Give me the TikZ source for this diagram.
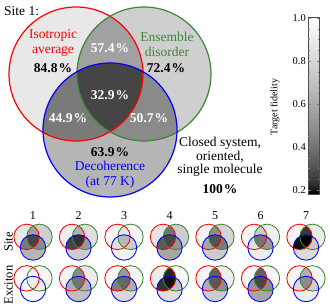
\documentclass[tikz,border=0pt]{standalone}
\usepackage{fontspec}
\setmainfont{Liberation Serif}
\definecolor{vred}{RGB}{255,0,0}
\definecolor{vgreen}{RGB}{60,135,50}
\definecolor{vblue}{RGB}{0,0,255}
\pgfdeclareverticalshading{fid}{100bp}{color(0bp)=(black); color(25bp)=(black);
 color(27.5bp)=(white!16.6!black); color(30bp)=(white!25.1!black); color(35bp)=(white!38.1!black);
 color(40bp)=(white!48.6!black); color(45bp)=(white!57.7!black); color(50bp)=(white!66!black);
 color(55bp)=(white!73.6!black); color(60bp)=(white!80.7!black); color(65bp)=(white!87.5!black);
 color(70bp)=(white!93.9!black); color(75bp)=(white); color(100bp)=(white)}
% shades: RO GO BO RG RB GB RGB (percent white)
\newcommand{\myvenn}[7]{%
 \fill[white!#1!black] (-34,-56) circle[radius=67pt];
 \fill[white!#2!black] (34,-56) circle[radius=67pt];
 \fill[white!#3!black] (0,0) circle[radius=67pt];
 \begin{scope}
  \clip (-34,-56) circle[radius=67pt];
  \fill[white!#4!black] (34,-56) circle[radius=67pt];
  \fill[white!#5!black] (0,0) circle[radius=67pt];
 \end{scope}
 \begin{scope}
  \clip (34,-56) circle[radius=67pt];
  \fill[white!#6!black] (0,0) circle[radius=67pt];
 \end{scope}
 \begin{scope}
  \clip (-34,-56) circle[radius=67pt];
  \clip (34,-56) circle[radius=67pt];
  \fill[white!#7!black] (0,0) circle[radius=67pt];
 \end{scope}
 \draw[vred, vline] (-34,-56) circle[radius=67pt];
 \draw[vgreen, vline] (34,-56) circle[radius=67pt];
 \draw[vblue, vline] (0,0) circle[radius=67pt];
}
\newcommand{\mfs}{\fontsize{13.5}{15}\selectfont}
\begin{document}
\begin{tikzpicture}[x=1pt,y=-1pt,
  vline/.style={line width=1.2pt},
  lbl/.style={inner sep=0pt, font=\mfs, align=center},
  pct/.style={inner sep=0pt, font=\mfs\bfseries},
  wpct/.style={pct, text=white},
  tick/.style={inner sep=0pt, font=\fontsize{10.5}{12}\selectfont, anchor=east},
  coln/.style={inner sep=0pt, font=\fontsize{12}{14}\selectfont},
  rowl/.style={inner sep=0pt, font=\fontsize{12.5}{14}\selectfont, rotate=90}]
\path[use as bounding box] (0,0) rectangle (330,306);
% main Venn
\begin{scope}[shift={(110,130)}]
 \myvenn{91}{81}{71}{63}{48}{54}{27}
\end{scope}
\node[lbl, anchor=west] (site1) at (4,11) {Site 1:};
\node[lbl, text=vred] (iso) at (53,42.5) {Isotropic\\average};
\node[pct] (p848) at (53,68) {84.8\kern1pt\%};
\node[wpct] (p574) at (110,48) {57.4\kern1pt\%};
\node[lbl, text=vgreen] (ens) at (167,44.5) {Ensemble\\disorder};
\node[pct] (p724) at (166,68) {72.4\kern1pt\%};
\node[wpct] (p329) at (110,95) {32.9\kern1pt\%};
\node[wpct] (p449) at (68,118) {44.9\kern1pt\%};
\node[wpct] (p507) at (149,118) {50.7\kern1pt\%};
\node[pct] (p639) at (110,152) {63.9\kern1pt\%};
\node[lbl, text=vblue] (dec) at (110,174.5) {Decoherence\\(at 77 K)};
\node[lbl, font=\fontsize{13.5}{13.7}\selectfont] (closed) at (220,157) {Closed system,\\oriented,\\single molecule};
\node[pct] (p100) at (220,189) {100\kern1pt\%};
% colour bar
\node[draw=black!70, line width=0.5pt, shading=fid, minimum width=11pt, minimum height=176.5pt, inner sep=0pt] (bar) at (313.8,105.75) {};
\foreach \k in {0,...,16}{
  \pgfmathsetmacro{\yy}{18+\k*10.75}
  \pgfmathsetmacro{\tl}{mod(\k,4)==0 ? 2.5 : 1.3}
  \draw[black!50, line width=0.35pt] (308.3,\yy) -- ++(\tl,0);
  \draw[black!50, line width=0.35pt] (319.3,\yy) -- ++(-\tl,0);
}
\node[tick] (t10) at (306,18) {1.0};
\node[tick] (t08) at (306,61) {0.8};
\node[tick] (t06) at (306,104) {0.6};
\node[tick] (t04) at (306,147) {0.4};
\node[tick] (t02) at (306,190) {0.2};
\node[inner sep=0pt, font=\fontsize{10}{12}\selectfont, rotate=90] (tf) at (275,107) {Target fidelity};
% small Venns
\begin{scope}[vline/.style={line width=0.85pt}]
\foreach \va/\vb/\vc/\vd/\ve/\vf/\vg [count=\i from 0] in {
  91/81/71/63/48/54/27,
  93/87/80/70/27/60/20,
  97/96/95/90/88/80/72,
  90/80/65/45/35/58/28,
  95/83/80/55/65/48/32,
  96/94/93/80/88/60/45,
  96/92/86/22/6/80/0}{
  \begin{scope}[shift={(33+45.5*\i,247.5)}, scale=0.19]
   \myvenn{\va}{\vb}{\vc}{\vd}{\ve}{\vf}{\vg}
  \end{scope}
}
\foreach \va/\vb/\vc/\vd/\ve/\vf/\vg [count=\i from 0] in {
  98/96/97/95/96/93/93,
  96/92/75/55/68/70/45,
  98/96/85/60/50/68/40,
  93/97/87/15/20/75/8,
  96/93/80/38/68/55/35,
  97/96/65/38/58/55/28,
  97/96/93/70/85/80/55}{
  \begin{scope}[shift={(33+45.5*\i,289)}, scale=0.19]
   \myvenn{\va}{\vb}{\vc}{\vd}{\ve}{\vf}{\vg}
  \end{scope}
}
\end{scope}
\foreach \i in {1,...,7}{
  \node[coln] (n\i) at (33+45.5*\i-45.5,215.5) {\i};
}
\node[rowl] (rsite) at (8.5,241.7) {Site};
\node[rowl] (rexc) at (8.5,285) {Exciton};
\end{tikzpicture}
\end{document}
